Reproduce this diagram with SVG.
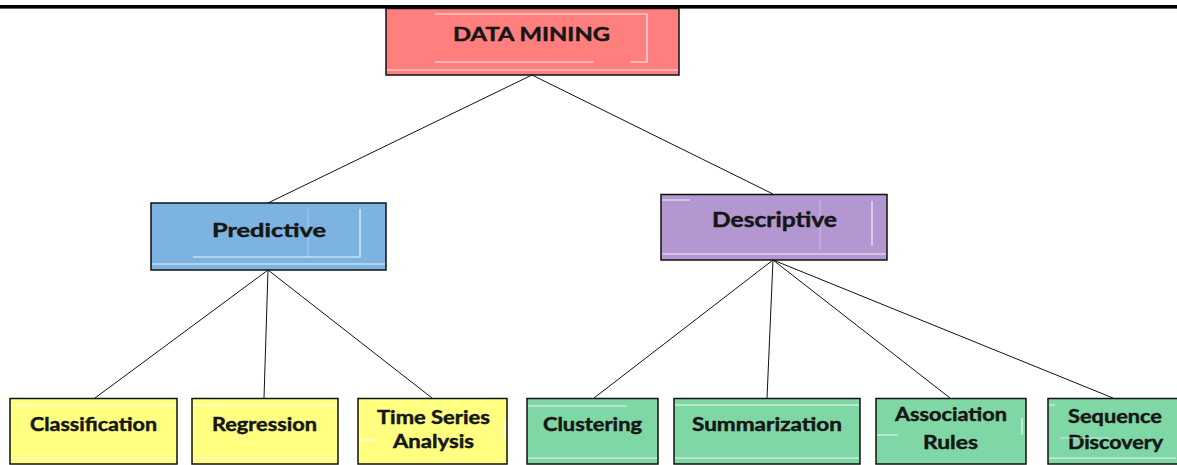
<svg xmlns="http://www.w3.org/2000/svg" width="1177" height="465" viewBox="0 0 1177 465">
<style>
.box{stroke:#111;stroke-width:1.5}
.red{fill:#FF7F7F}.blue{fill:#7DB3E1}.purple{fill:#B397D0}.yellow{fill:#FFFF80}.green{fill:#7FD7A5}
.t{font-family:Lato,"Open Sans","Liberation Sans",sans-serif;font-weight:bold;fill:#161616;stroke:#161616;stroke-width:0.45;text-anchor:middle}
.hl{stroke:#ffffff;stroke-width:1.2;fill:none;opacity:0.85}
.c{stroke:#111;stroke-width:1;fill:none}
</style>
<rect x="0" y="0" width="1177" height="465" fill="#ffffff"/>
<rect x="0" y="5" width="1177" height="3.6" fill="#000"/>
<g id="connectors">
<line class="c" x1="532" y1="75" x2="268" y2="203"/>
<line class="c" x1="532" y1="75" x2="773" y2="194"/>
<line class="c" x1="268" y1="270" x2="95" y2="398"/>
<line class="c" x1="268" y1="270" x2="264" y2="398"/>
<line class="c" x1="268" y1="270" x2="432" y2="398"/>
<line class="c" x1="773" y1="260" x2="594" y2="398"/>
<line class="c" x1="773" y1="260" x2="767" y2="398"/>
<line class="c" x1="773" y1="260" x2="950" y2="398"/>
<line class="c" x1="773" y1="260" x2="1113" y2="398"/>
</g>
<g id="data-mining">
<rect class="box red" x="386" y="8.5" width="293" height="66.5"/>
<path class="hl" d="M435 14H647V62H630M594 62H435M387 70H678"/>
<text class="t" x="531.5" y="41" font-size="19.5" textLength="157" lengthAdjust="spacingAndGlyphs">DATA MINING</text>
</g>
<g id="predictive">
<rect class="box blue" x="151" y="203" width="235" height="67"/>
<path class="hl" d="M193 257H360V209M152 264H385"/>
<line x1="308" y1="209" x2="308" y2="257" stroke="#fff" stroke-width="0.6" opacity="0.6"/>
<text class="t" x="269" y="236.5" font-size="19" textLength="114" lengthAdjust="spacingAndGlyphs">Predictive</text>
</g>
<g id="descriptive">
<rect class="box purple" x="661" y="194.5" width="226" height="65.5"/>
<path class="hl" d="M872 201V246M662 254H886M662 200H690"/>
<line x1="820" y1="200" x2="820" y2="250" stroke="#fff" stroke-width="0.6" opacity="0.6"/>
<text class="t" x="774.5" y="227" font-size="20.5" textLength="125" lengthAdjust="spacingAndGlyphs">Descriptive</text>
</g>
<g id="classification">
<rect class="box yellow" x="10" y="398.5" width="167" height="65.5"/>
<path class="hl" d="M11 405H176M11 458H176"/>
<text class="t" x="93.5" y="430.5" font-size="18" textLength="127" lengthAdjust="spacingAndGlyphs">Classification</text>
</g>
<g id="regression">
<rect class="box yellow" x="192" y="398.5" width="146" height="65.5"/>
<path class="hl" d="M193 405H337M193 458H337"/>
<text class="t" x="264.5" y="430.5" font-size="18" textLength="105" lengthAdjust="spacingAndGlyphs">Regression</text>
</g>
<g id="time-series">
<rect class="box yellow" x="358" y="398.5" width="149" height="65.5"/>
<path class="hl" d="M359 440H376M505 420V440"/>
<text class="t" x="433.5" y="424" font-size="18" textLength="113" lengthAdjust="spacingAndGlyphs">Time Series</text>
<text class="t" x="433.5" y="447.5" font-size="18" textLength="81" lengthAdjust="spacingAndGlyphs">Analysis</text>
</g>
<g id="clustering">
<rect class="box green" x="527" y="398.5" width="131" height="65.5"/>
<path class="hl" d="M528 406H627M528 458H657"/>
<text class="t" x="592.5" y="430.5" font-size="18" textLength="99" lengthAdjust="spacingAndGlyphs">Clustering</text>
</g>
<g id="summarization">
<rect class="box green" x="674" y="398.5" width="186" height="65.5"/>
<path class="hl" d="M675 405H859M675 458H859"/>
<text class="t" x="767" y="430.5" font-size="18" textLength="150" lengthAdjust="spacingAndGlyphs">Summarization</text>
</g>
<g id="association-rules">
<rect class="box green" x="876" y="398.5" width="150" height="65.5"/>
<path class="hl" d="M877 435H898M1022 418V435"/>
<text class="t" x="951" y="421" font-size="18" textLength="112" lengthAdjust="spacingAndGlyphs">Association</text>
<text class="t" x="950.5" y="448.5" font-size="18" textLength="55" lengthAdjust="spacingAndGlyphs">Rules</text>
</g>
<g id="sequence-discovery">
<rect class="box green" x="1048" y="398.5" width="135" height="65.5"/>
<path class="hl" d="M1049 405H1055M1049 458H1176"/>
<text class="t" x="1115" y="422.5" font-size="18" textLength="94" lengthAdjust="spacingAndGlyphs">Sequence</text>
<text class="t" x="1115.5" y="448.5" font-size="18" textLength="95" lengthAdjust="spacingAndGlyphs">Discovery</text>
<line x1="1060" y1="438" x2="1110" y2="438" stroke="#fff" stroke-width="0.8" opacity="0.7"/>
</g>
</svg>
